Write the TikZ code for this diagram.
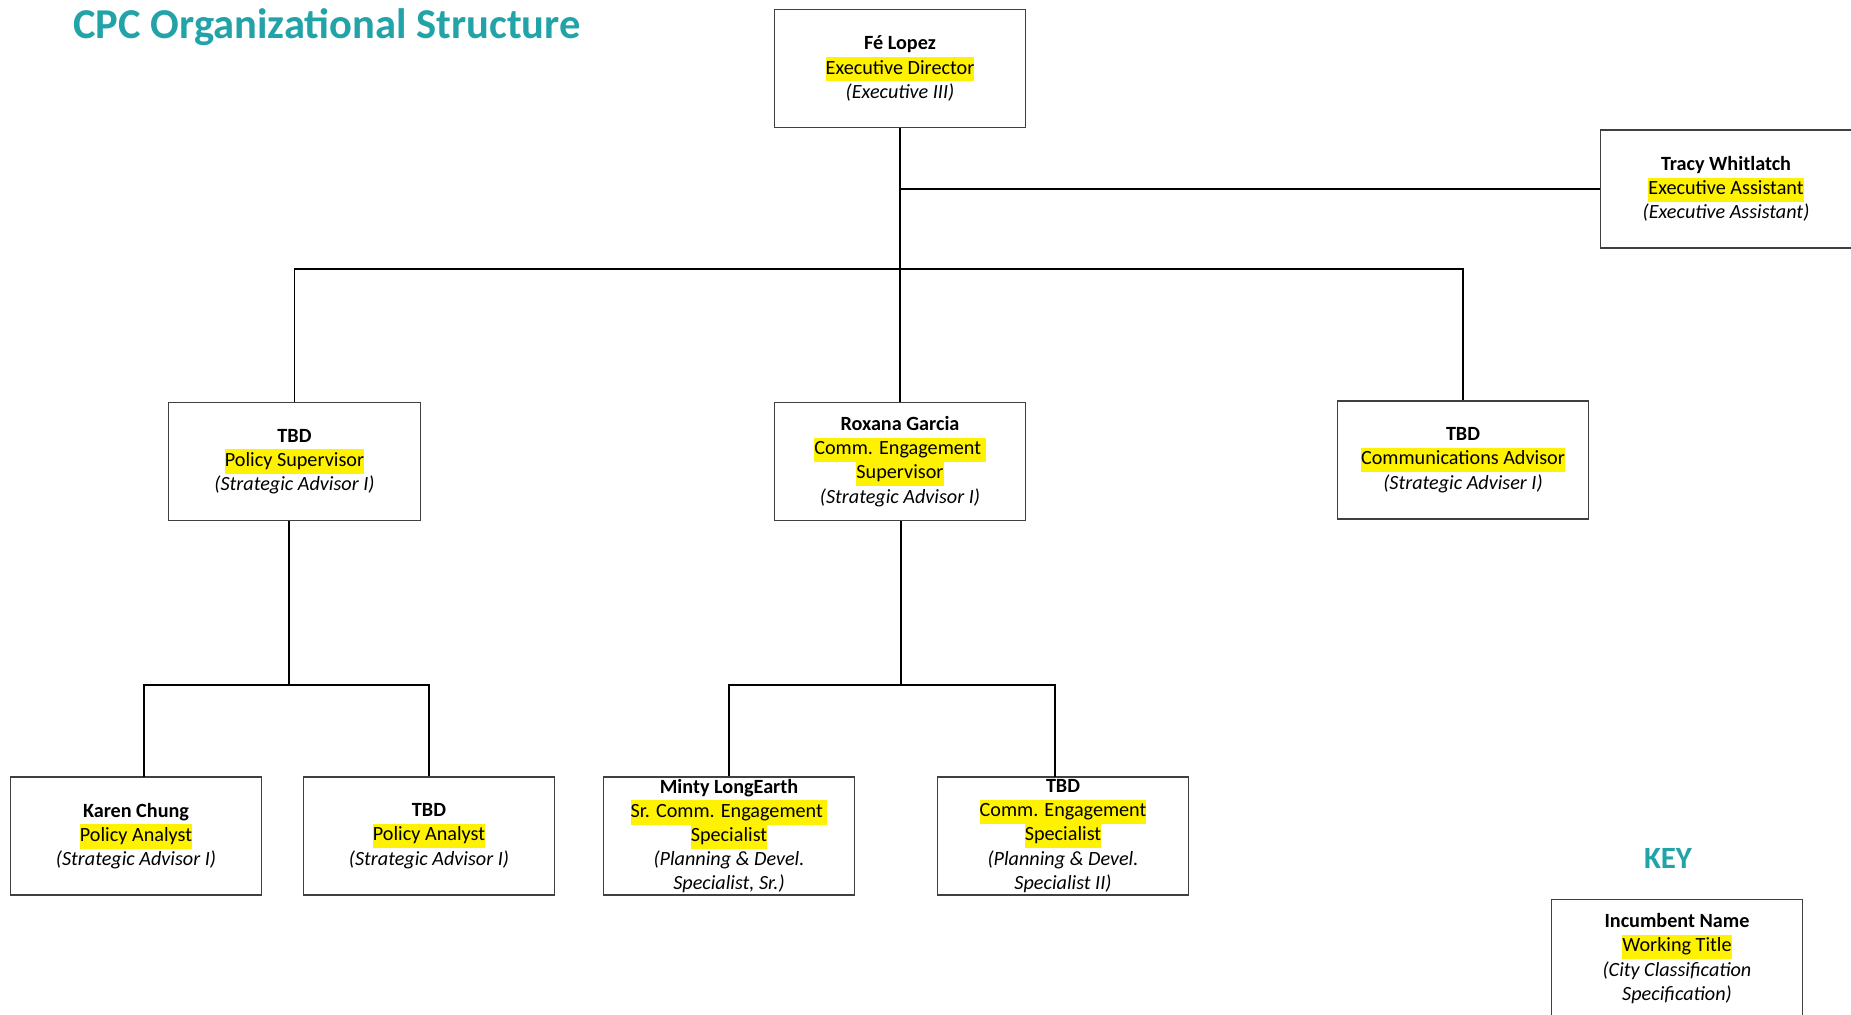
\documentclass[tikz,border=0pt]{standalone}
\usepackage{fontspec}
\setmainfont{Carlito}
\definecolor{cpcteal}{RGB}{33,163,168}
\newcommand{\hl}[1]{{\setlength{\fboxsep}{0pt}\colorbox{yellow}{\strut #1}}}

\begin{document}
\begin{tikzpicture}[x=0.55pt,y=-0.55pt,
  post/.style={draw=black!75,line width=0.6pt,fill=white,align=center,
    minimum width=138.3pt,minimum height=64.9pt,inner sep=0pt,
    font=\fontsize{11.1}{13.3}\selectfont},
  link/.style={line width=0.9pt},
  heading/.style={text=cpcteal,font=\bfseries\fontsize{23.4}{27}\selectfont,inner sep=0pt}]
\useasboundingbox (0,0) rectangle (1851,1014);
% title
\node[heading,anchor=base west] (title) at (73,38) {CPC Organizational Structure};
% director and assistant
\node[post] (ed) at (900,68.5) {\textbf{Fé Lopez}\\\hl{Executive Director}\\\textit{(Executive III)}};
\node[post] (ea) at (1726,189) {\textbf{Tracy Whitlatch}\\\hl{Executive Assistant}\\\textit{(Executive Assistant)}};
% supervisors
\node[post] (ps) at (294.5,461.5) {\textbf{TBD}\\\hl{Policy Supervisor}\\\textit{(Strategic Advisor I)}};
\node[post] (ces) at (900,461.5) {\textbf{Roxana Garcia}\\\hl{Comm. Engagement\ }\\\hl{Supervisor}\\\textit{(Strategic Advisor I)}};
\node[post] (ca) at (1463,460) {\textbf{TBD}\\\hl{Communications Advisor}\\\textit{(Strategic Adviser I)}};
% staff
\node[post] (pa1) at (136,836) {\textbf{Karen Chung}\\\hl{Policy Analyst}\\\textit{(Strategic Advisor I)}};
\node[post] (pa2) at (429,836) {\textbf{TBD}\\\hl{Policy Analyst}\\\textit{(Strategic Advisor I)}};
\node[post] (sces) at (729,836) {\textbf{Minty LongEarth}\\\hl{Sr. Comm. Engagement\ }\\\hl{Specialist}\\\textit{(Planning \& Devel.}\\\textit{Specialist, Sr.)}};
\node[post] (cesp) at (1063,836) {\textbf{TBD}\\\hl{Comm. Engagement}\\\hl{Specialist}\\\textit{(Planning \& Devel.}\\\textit{Specialist II)}};
% key
\node[heading,font=\bfseries\fontsize{17}{20}\selectfont,anchor=base] (keyhead) at (1668,868) {KEY};
\node[post] (key) at (1677,958.5) {\textbf{Incumbent Name}\\\hl{Working Title}\\\textit{(City Classification}\\\textit{Specification)}};
% junctions
\coordinate (bus1) at (900,269);
\coordinate (bus2) at (289,685);
\coordinate (bus3) at (900.7,685);
\coordinate (k1) at (144,777);
\coordinate (k2) at (1055,777);
% lines
\draw[link] (ed.south) -- (bus1);
\draw[link] (ed.south |- ea.west) -- (ea.west);
\draw[link] (ps.north) |- (bus1) -| (ca.north);
\draw[link] (bus1) -- (ces.north);
\draw[link] (bus2 |- ps.south) -- (bus2);
\draw[link] (k1) |- (bus2) -| (pa2.north);
\draw[link] (bus3 |- ces.south) -- (bus3);
\draw[link] (sces.north) |- (bus3) -| (k2);
\end{tikzpicture}
\end{document}
